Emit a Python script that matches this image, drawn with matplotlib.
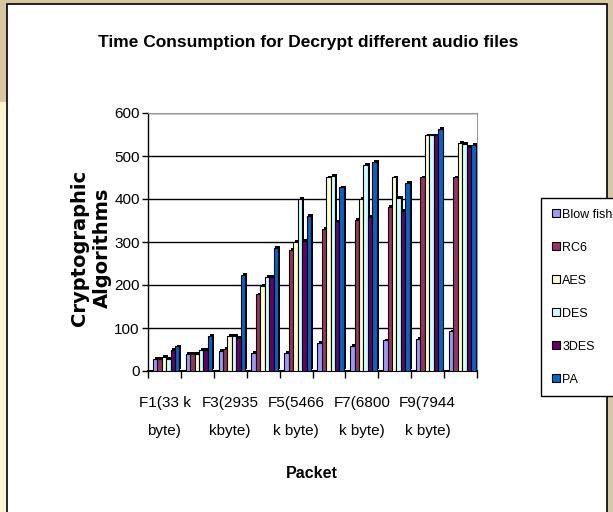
import numpy as np
import matplotlib
matplotlib.use('Agg')
import matplotlib.pyplot as plt
import matplotlib.patheffects as pe
from matplotlib.patches import Rectangle, Patch

plt.rcParams['font.family'] = ['Liberation Sans', 'DejaVu Sans']

# decrypt time per file for each algorithm
files = ['F1(33 k\nbyte)', 'F2', 'F3(2935\nkbyte)', 'F4', 'F5(5466\nk byte)', 'F6',
         'F7(6800\nk byte)', 'F8', 'F9(7944\nk byte)', 'F10']
algorithms = ['Blow fish', 'RC6', 'AES', 'DES', '3DES', 'PA']
blowfish = [28, 40, 46, 42, 42, 65, 58, 71, 75, 92]
rc6 = [28, 40, 52, 178, 281, 331, 352, 381, 450, 450]
aes = [32, 40, 81, 198, 300, 450, 400, 450, 548, 531]
des = [28, 50, 81, 219, 400, 454, 479, 402, 548, 528]
tdes = [50, 50, 77, 219, 302, 348, 359, 372, 548, 521]
pa = [57, 82, 223, 286, 360, 427, 486, 438, 563, 525]
series = [blowfish, rc6, aes, des, tdes, pa]
colors = ['#9999FF', '#993366', '#FFFFCC', '#CCFFFF', '#660066', '#0066CC']

fig = plt.figure(figsize=(6.13, 5.12), dpi=100)
fig.patch.set_facecolor('#d8c7a4')
fig.patches.append(Rectangle((0, 0), 7 / 613, 0.80, transform=fig.transFigure,
                             fc='#fbf5d2', ec='none', zorder=-2))
fig.patches.append(Rectangle((7 / 613, -0.01), 600 / 613, 1.002, transform=fig.transFigure,
                             fc='white', ec='black', lw=1.2, zorder=-1))

ax = fig.add_axes([148 / 613, 1 - 371 / 512, 329 / 613, 258 / 512])
ax.set_facecolor('white')

x = np.arange(len(files))
w = 0.135
shadow = [pe.SimplePatchShadow(offset=(1.3, 1.3), shadow_rgbFace='black', alpha=1), pe.Normal()]
for i, (vals, c) in enumerate(zip(series, colors)):
    ax.bar(x + (i - 2.5) * w + 0.05, vals, w, color=c, edgecolor='black',
           linewidth=0.8, path_effects=shadow, zorder=3)

ax.set_xlim(-0.5, 9.5)
ax.set_ylim(0, 600)
ax.set_yticks(range(0, 601, 100))
ax.yaxis.grid(True, color='black', linewidth=1)
ax.set_axisbelow(True)
ax.tick_params(axis='y', labelsize=11, length=4, width=1, pad=2)

# ticks between groups, labels on every other group
ax.set_xticks(np.arange(-0.5, 10, 1))
ax.set_xticklabels([])
ax.set_xticks(x[::2], minor=True)
ax.set_xticklabels(files[::2], minor=True, fontsize=11, linespacing=2.3)
ax.tick_params(axis='x', which='major', length=5, width=1)
ax.tick_params(axis='x', which='minor', length=0, pad=18)

for s in ['top', 'right']:
    ax.spines[s].set_color('#999999')
ax.spines['left'].set_linewidth(1)
ax.spines['bottom'].set_linewidth(1.5)

fig.text(0.503, 1 - 43 / 512, 'Time Consumption for Decrypt different audio files',
         ha='center', va='center', fontsize=12.5, fontweight='bold')
fig.text(91 / 613, 1 - 248 / 512, 'Cryptographic\nAlgorithms', rotation=90,
         ha='center', va='center', fontsize=14, fontweight='bold',
         family='DejaVu Sans', linespacing=1.2)
fig.text(312 / 613, 1 - 474 / 512, 'Packet', ha='center', va='center',
         fontsize=11.5, fontweight='bold')

handles = [Patch(facecolor=c, edgecolor='black', linewidth=0.8) for c in colors]
leg = fig.legend(handles, algorithms, loc='upper left',
                 bbox_to_anchor=(541 / 613, 1 - 198 / 512), fontsize=9,
                 frameon=True, fancybox=False, edgecolor='black', framealpha=1,
                 handlelength=0.65, handleheight=0.65, handletextpad=0.2,
                 labelspacing=1.68, borderpad=0.85, borderaxespad=0)
leg.get_frame().set_linewidth(1)

fig.savefig('out.png', dpi=100, facecolor=fig.get_facecolor())
